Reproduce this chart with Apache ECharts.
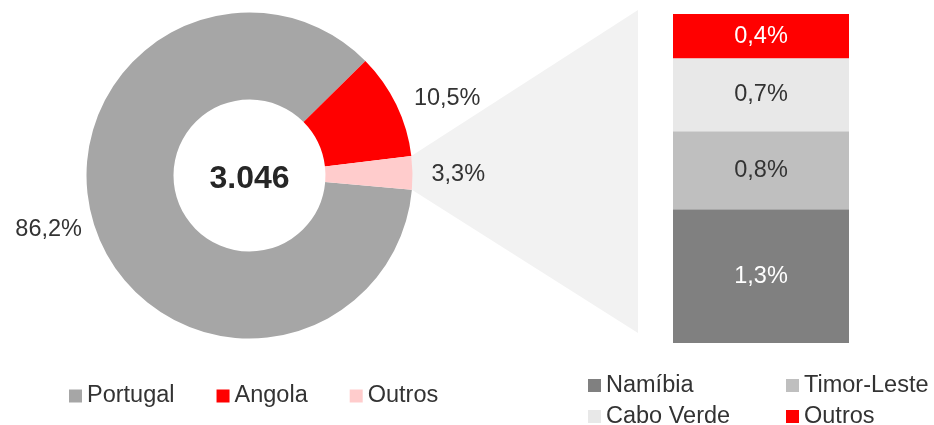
<!DOCTYPE html>
<html>
<head>
<meta charset="utf-8">
<script src="https://cdn.jsdelivr.net/npm/echarts@6/dist/echarts.min.js"></script>
<style>
  html, body { margin: 0; padding: 0; background: #fff; }
  #chart { width: 934px; height: 425px; }
</style>
</head>
<body>
<div id="chart"></div>
<script>
// donut: distribution by country
var pieNames = ['Portugal', 'Angola', 'Outros'];
var pieValues = [86.2, 10.5, 3.3];
var pieColors = ['#a6a6a6', '#ff0000', '#ffcccc'];
var totalLabel = '3.046';

// breakdown of "Outros" (stacked bar, bottom to top)
var barNames = ['Namíbia', 'Timor-Leste', 'Cabo Verde', 'Outros'];
var barValues = [1.30, 0.76, 0.71, 0.43];
var barColors = ['#808080', '#bfbfbf', '#e8e8e8', '#ff0000'];
var barLabelColors = ['#fff', '#333', '#333', '#fff'];

var FONT = '"Liberation Sans", Arial, sans-serif';
var FS = 23.5;

function pct(v) {
  return v.toFixed(1).replace('.', ',') + '%';
}

var chart = echarts.init(document.getElementById('chart'));

var barTotal = 0;
barValues.forEach(function (v) { barTotal += v; });

var barSeries = barNames.map(function (name, i) {
  return {
    name: name,
    type: 'bar',
    stack: 'outros',
    barWidth: '100%',
    data: [barValues[i]],
    itemStyle: { color: barColors[i] },
    label: {
      show: true,
      position: 'inside',
      formatter: function (p) { return pct(p.value); },
      color: barLabelColors[i],
      fontFamily: FONT,
      fontSize: FS
    },
    silent: true
  };
});

var legendText = { fontFamily: FONT, fontSize: FS, color: '#333', lineHeight: 23 };

function colLegend(left, idx) {
  return {
    left: left,
    top: 373.5,
    height: 70,
    padding: 0,
    orient: 'vertical',
    itemWidth: 13,
    itemHeight: 13,
    itemGap: 7,
    icon: 'rect',
    textStyle: legendText,
    data: idx.map(function (i) {
      return { name: barNames[i], itemStyle: { color: barColors[i] } };
    })
  };
}

var option = {
  animation: false,
  textStyle: { fontFamily: FONT },
  grid: { left: 673, top: 14, width: 176, height: 329 },
  xAxis: { type: 'category', data: ['Outros'], show: false },
  yAxis: { type: 'value', min: 0, max: barTotal, show: false },
  legend: [{
    left: 69,
    top: 384,
    padding: 0,
    itemWidth: 13,
    itemHeight: 13,
    itemGap: 42,
    icon: 'rect',
    textStyle: legendText,
    data: pieNames.map(function (n, i) {
      return { name: n, itemStyle: { color: pieColors[i] } };
    })
  }, colLegend(588, [0, 2]), colLegend(786, [1, 3])],
  series: [{
    type: 'pie',
    center: [249.5, 175.5],
    radius: [76, 163],
    startAngle: -5,
    clockwise: true,
    z: 3,
    silent: true,
    data: pieNames.map(function (n, i) {
      return { name: n, value: pieValues[i], itemStyle: { color: pieColors[i] } };
    }),
    label: {
      show: true,
      position: 'outside',
      formatter: function (p) { return pct(p.value); },
      color: '#333',
      fontFamily: FONT,
      fontSize: FS
    },
    labelLine: { show: false, length: 14, length2: 0 },
    // nudge the big slice's label a bit up / toward the ring
    labelLayout: function (p) {
      return p.dataIndex === 0 ? { dx: 2, dy: -3 } : { dy: p.dataIndex === 2 ? 1 : 0 };
    }
  }].concat(barSeries)
};

chart.setOption(option);

// connector from the "Outros" slice to the stacked bar, plus the total in the middle
var pieData = chart.getModel().getSeriesByIndex(0).getData();
var lay = pieData.getItemLayout(2);
var topLeft = chart.convertToPixel({ gridIndex: 0 }, [0, barTotal]);
var botLeft = chart.convertToPixel({ gridIndex: 0 }, [0, 0]);
var barLeft = 673;
var a1 = lay.startAngle, a2 = lay.endAngle;
chart.setOption({
  graphic: [{
    type: 'polygon',
    z: 0,
    silent: true,
    shape: {
      points: [
        [lay.cx + lay.r * Math.cos(a1), lay.cy + lay.r * Math.sin(a1)],
        [barLeft - 35, topLeft[1] - 4],
        [barLeft - 35, botLeft[1] - 10],
        [lay.cx + lay.r * Math.cos(a2), lay.cy + lay.r * Math.sin(a2)]
      ]
    },
    style: { fill: '#f2f2f2' }
  }, {
    type: 'text',
    z: 10,
    silent: true,
    x: lay.cx,
    y: lay.cy + 4,
    style: {
      text: totalLabel,
      fill: '#262626',
      font: 'bold 32px ' + FONT,
      textAlign: 'center',
      textVerticalAlign: 'middle'
    }
  }]
});
</script>
</body>
</html>
